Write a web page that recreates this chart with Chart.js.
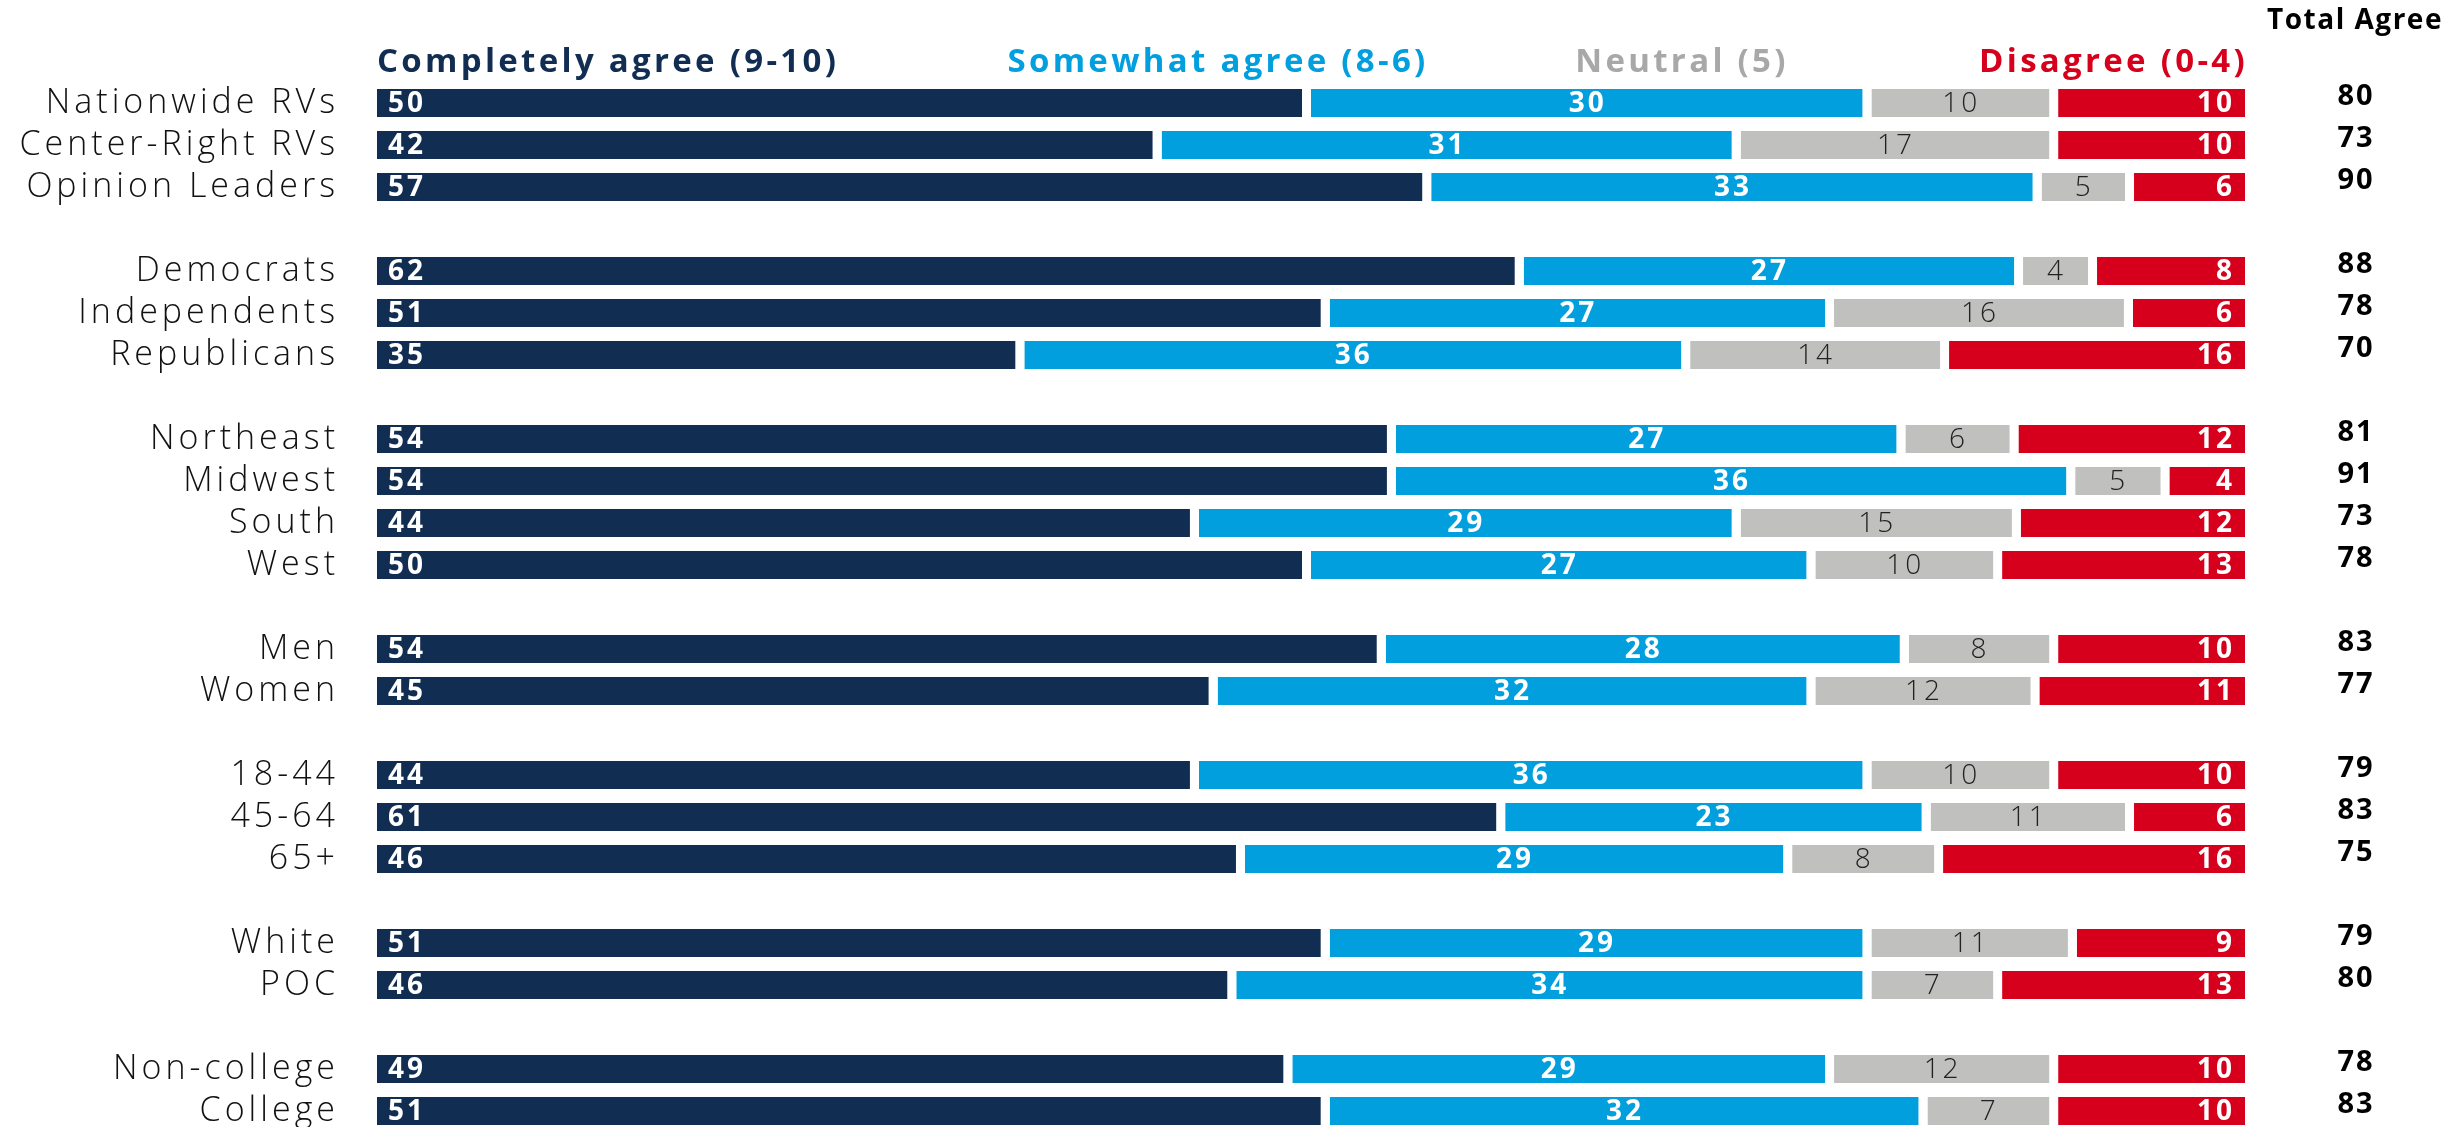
<!DOCTYPE html>
<html>
<head>
<meta charset="utf-8">
<script src="https://cdn.jsdelivr.net/npm/chart.js@4.4.1/dist/chart.umd.min.js"></script>
<style>
  html, body { margin: 0; padding: 0; background: #fff; overflow: hidden; }
  canvas { display: block; }
</style>
</head>
<body>
<canvas id="agreeChart" width="2463" height="1140"></canvas>
<script>
// Agreement by subgroup (empty label = spacer row between groups)

const categories = [
  'Nationwide RVs', 'Center-Right RVs', 'Opinion Leaders', '',
  'Democrats', 'Independents', 'Republicans', '',
  'Northeast', 'Midwest', 'South', 'West', '',
  'Men', 'Women', '',
  '18-44', '45-64', '65+', '',
  'White', 'POC', '',
  'Non-college', 'College'
];

const completelyAgree = [50, 42, 57, null, 62, 51, 35, null, 54, 54, 44, 50, null, 54, 45, null, 44, 61, 46, null, 51, 46, null, 49, 51];
const somewhatAgree = [30, 31, 33, null, 27, 27, 36, null, 27, 36, 29, 27, null, 28, 32, null, 36, 23, 29, null, 29, 34, null, 29, 32];
const neutral = [10, 17, 5, null, 4, 16, 14, null, 6, 5, 15, 10, null, 8, 12, null, 10, 11, 8, null, 11, 7, null, 12, 7];
const disagree = [10, 10, 6, null, 8, 6, 16, null, 12, 4, 12, 13, null, 10, 11, null, 10, 6, 16, null, 9, 13, null, 10, 10];
const totalAgree = [80, 73, 90, null, 88, 78, 70, null, 81, 91, 73, 78, null, 83, 77, null, 79, 83, 75, null, 79, 80, null, 78, 83];

const seriesNames = ['Completely agree (9-10)', 'Somewhat agree (8-6)', 'Neutral (5)', 'Disagree (0-4)'];
const seriesColors = ['#122d52', '#029fdf', '#c0c0bf', '#d6001c'];
const headerColors = ['#122d52', '#029fdf', '#a8a8a8', '#d6001c'];

const FONT = "'Open Sans', 'DejaVu Sans', sans-serif";

const rawSeries = [completelyAgree, somewhatAgree, neutral, disagree];

// each row is drawn as a share of its own total so every bar spans the full width
const rowTotals = categories.map((_, i) =>
  rawSeries.reduce((sum, s) => sum + (s[i] || 0), 0)
);
const toShare = (values) =>
  values.map((v, i) => (v == null ? null : (v / rowTotals[i]) * 100));

const GAP = 9;

const datasets = rawSeries.map((values, k) => ({
  label: seriesNames[k],
  data: toShare(values),
  raw: values,
  backgroundColor: seriesColors[k],
  borderColor: '#ffffff',
  borderWidth: k < 3 ? { top: 0, bottom: 0, left: 0, right: GAP } : 0,
  borderSkipped: false,
  barPercentage: 0.67,
  categoryPercentage: 1,
}));

// wider letter spacing on the axis labels (reference font is a wide geometric sans)
const axisSpacing = {
  id: 'axisSpacing',
  beforeDraw(chart) {
    chart.ctx.letterSpacing = '4px';
  },
  beforeDatasetsDraw(chart) {
    chart.ctx.letterSpacing = '0px';
  },
};

// value labels inside the segments
const segmentLabels = {
  id: 'segmentLabels',
  afterDatasetsDraw(chart) {
    const { ctx } = chart;
    ctx.save();
    ctx.textBaseline = 'middle';
    ctx.letterSpacing = '3px';
    chart.data.datasets.forEach((ds, k) => {
      const meta = chart.getDatasetMeta(k);
      meta.data.forEach((bar, i) => {
        const v = ds.raw[i];
        if (v == null) return;
        const right = k < 3 ? bar.x - GAP : bar.x;
        const left = bar.base;
        if (k === 2) {
          ctx.font = `300 28px ${FONT}`;
          ctx.fillStyle = '#222';
        } else {
          ctx.font = `700 28px ${FONT}`;
          ctx.fillStyle = '#fff';
        }
        if (k === 0) {
          ctx.textAlign = 'left';
          ctx.fillText(v, left + 11, bar.y + 1);
        } else if (k === 3) {
          ctx.textAlign = 'right';
          ctx.fillText(v, right - 10, bar.y + 1);
        } else {
          ctx.textAlign = 'center';
          ctx.fillText(v, (left + right) / 2 + 1, bar.y + 1);
        }
      });
    });
    ctx.restore();
  },
};

// column headers and the Total Agree column
const headers = {
  id: 'headers',
  afterDraw(chart) {
    const { ctx, chartArea } = chart;
    const w = chartArea.right - chartArea.left;
    const headerX = [0, 0.3375, 0.6415, 1];
    const colX = chartArea.right + 110;
    ctx.save();
    ctx.textBaseline = 'middle';
    ctx.font = `700 33px ${FONT}`;
    ctx.letterSpacing = '3.3px';
    seriesNames.forEach((name, k) => {
      ctx.fillStyle = headerColors[k];
      ctx.textAlign = k === 3 ? 'right' : 'left';
      const x = chartArea.left + headerX[k] * w + (k === 3 ? 3 : 0);
      ctx.fillText(name, x, 63);
    });

    ctx.fillStyle = '#000';
    ctx.textAlign = 'center';
    ctx.font = `700 28px ${FONT}`;
    ctx.letterSpacing = '1.5px';
    ctx.fillText('Total Agree', colX, 21);

    const yScale = chart.scales.y;
    ctx.font = `700 29px ${FONT}`;
    ctx.letterSpacing = '2px';
    totalAgree.forEach((v, i) => {
      if (v == null) return;
      ctx.fillText(v, colX + 1, yScale.getPixelForValue(i) - 6);
    });
    ctx.restore();
  },
};

new Chart(document.getElementById('agreeChart'), {
  type: 'bar',
  data: { labels: categories, datasets },
  options: {
    indexAxis: 'y',
    responsive: false,
    animation: false,
    layout: { padding: { top: 82, bottom: 8, left: 0, right: 218 } },
    plugins: {
      legend: { display: false },
      tooltip: { enabled: false },
    },
    scales: {
      x: {
        stacked: true,
        min: 0,
        max: 100,
        display: false,
      },
      y: {
        stacked: true,
        grid: { display: false, drawTicks: false },
        border: { display: false },
        afterFit: (scale) => {
          scale.width = 377;
          // tick padding would otherwise eat into the top/bottom of the plot
          scale.paddingTop = 0;
          scale.paddingBottom = 0;
        },
        ticks: {
          color: '#111',
          padding: 38,
          autoSkip: false,
          font: { family: FONT, size: 34, weight: '300' },
        },
      },
    },
  },
  plugins: [axisSpacing, segmentLabels, headers],
});
</script>
</body>
</html>
